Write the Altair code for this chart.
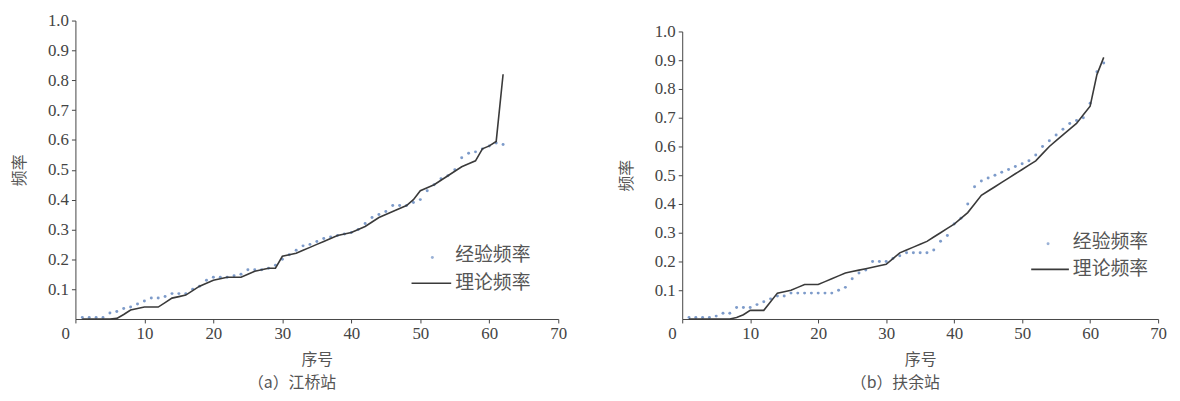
import altair as alt
import pandas as pd

idx = list(range(1, 63))

# (a) 江桥站
a_emp = [0.005, 0.005, 0.005, 0.005, 0.02, 0.025, 0.035, 0.04, 0.05, 0.06,
         0.07, 0.07, 0.075, 0.085, 0.085, 0.085, 0.10, 0.11, 0.13, 0.14,
         0.14, 0.14, 0.145, 0.15, 0.165, 0.165, 0.165, 0.17, 0.18, 0.20,
         0.215, 0.23, 0.245, 0.25, 0.26, 0.27, 0.275, 0.28, 0.285, 0.29,
         0.30, 0.32, 0.34, 0.35, 0.36, 0.38, 0.38, 0.38, 0.39, 0.40,
         0.43, 0.45, 0.47, 0.48, 0.50, 0.54, 0.555, 0.56, 0.57, 0.58,
         0.59, 0.585]
a_theo = [0.0, 0.0, 0.0, 0.0, 0.0, 0.002, 0.015, 0.03, 0.035, 0.04,
          0.04, 0.04, 0.055, 0.07, 0.075, 0.08, 0.095, 0.11, 0.12, 0.13,
          0.135, 0.14, 0.14, 0.14, 0.15, 0.16, 0.165, 0.17, 0.17, 0.21,
          0.215, 0.22, 0.23, 0.24, 0.25, 0.26, 0.27, 0.28, 0.285, 0.29,
          0.30, 0.31, 0.325, 0.34, 0.35, 0.36, 0.37, 0.38, 0.40, 0.43,
          0.44, 0.45, 0.465, 0.48, 0.495, 0.51, 0.52, 0.53, 0.57, 0.58,
          0.595, 0.82]

# (b) 扶余站
b_emp = [0.005, 0.005, 0.005, 0.005, 0.01, 0.02, 0.02, 0.04, 0.04, 0.04,
         0.05, 0.06, 0.07, 0.08, 0.08, 0.09, 0.09, 0.09, 0.09, 0.09,
         0.09, 0.09, 0.10, 0.11, 0.14, 0.16, 0.17, 0.20, 0.20, 0.20,
         0.21, 0.22, 0.23, 0.23, 0.23, 0.23, 0.24, 0.27, 0.29, 0.33,
         0.35, 0.40, 0.46, 0.48, 0.49, 0.50, 0.51, 0.52, 0.53, 0.54,
         0.55, 0.57, 0.60, 0.62, 0.64, 0.66, 0.68, 0.69, 0.70, 0.75,
         0.86, 0.89]
b_theo = [0.0, 0.0, 0.0, 0.0, 0.0, 0.0, 0.0, 0.005, 0.015, 0.03,
          0.03, 0.03, 0.06, 0.09, 0.095, 0.10, 0.11, 0.12, 0.12, 0.12,
          0.13, 0.14, 0.15, 0.16, 0.165, 0.17, 0.175, 0.18, 0.185, 0.19,
          0.21, 0.23, 0.24, 0.25, 0.26, 0.27, 0.285, 0.30, 0.315, 0.33,
          0.35, 0.37, 0.40, 0.43, 0.445, 0.46, 0.475, 0.49, 0.505, 0.52,
          0.535, 0.55, 0.575, 0.60, 0.62, 0.64, 0.66, 0.68, 0.71, 0.74,
          0.85, 0.91]

x_ticks = [0, 10, 20, 30, 40, 50, 60, 70]
y_ticks = [0.1, 0.2, 0.3, 0.4, 0.5, 0.6, 0.7, 0.8, 0.9, 1.0]
legend_labels = ["经验频率", "理论频率"]

SERIF = "Times New Roman, Liberation Serif, serif"
CJK = "Noto Sans CJK SC"
DOT = "#6f90c4"
LINE = "#3a3a3a"


def panel(emp, theo, caption, w, h, yrange, leg):
    df = pd.DataFrame({"i": idx, "emp": emp, "theo": theo})
    xaxis = alt.Axis(
        values=x_ticks, title="序号", titleFont=CJK, titleFontSize=16,
        titleFontWeight="normal", titleColor="#555", titlePadding=10,
        labelFont=SERIF, labelFontSize=17, labelColor="#444",
        labelAlign={"condition": {"test": "datum.value === 0", "value": "right"}, "value": "center"},
        labelOffset={"condition": {"test": "datum.value === 0", "value": -6}, "value": 0},
        labelPadding=3, domainColor="#444", tickColor="#444", tickSize=4,
        grid=False, labelFlush=False, labelOverlap=False,
    )
    yaxis = alt.Axis(
        values=y_ticks, format=".1f", title="频率", titleFont=CJK, titleFontSize=16,
        titleFontWeight="normal", titleColor="#555", titlePadding=20,
        labelFont=SERIF, labelFontSize=17, labelColor="#444", labelPadding=3,
        domainColor="#444", tickColor="#444", tickSize=4, grid=False,
        labelOverlap=False, labelFlush=False, labelBound=False,
    )
    xs = alt.Scale(domain=[0, 70], nice=False)
    ys = alt.Scale(domain=[0, 1], nice=False, range=yrange)
    base = alt.Chart(df)
    pts = base.mark_point(filled=True, size=9, color=DOT, opacity=0.9).encode(
        x=alt.X("i:Q", scale=xs, axis=xaxis),
        y=alt.Y("emp:Q", scale=ys, axis=yaxis),
    )
    line = base.mark_line(color=LINE, strokeWidth=1.6).encode(
        x=alt.X("i:Q", scale=xs, axis=xaxis),
        y=alt.Y("theo:Q", scale=ys, axis=yaxis),
    )
    one = alt.Data(values=[{"k": 1}])
    dx, dy, lx1, lx2, ly, tx = leg
    ldot = alt.Chart(one).mark_point(filled=True, size=9, color=DOT).encode(
        x=alt.value(dx), y=alt.value(dy))
    lt1 = alt.Chart(one).mark_text(align="left", baseline="middle", font=CJK,
                                   fontSize=19, color="#555").encode(
        x=alt.value(tx), y=alt.value(dy - 2), text=alt.value(legend_labels[0]))
    lrule = alt.Chart(one).mark_rule(color=LINE, strokeWidth=1.6).encode(
        x=alt.value(lx1), x2=alt.value(lx2), y=alt.value(ly))
    lt2 = alt.Chart(one).mark_text(align="left", baseline="middle", font=CJK,
                                   fontSize=19, color="#555").encode(
        x=alt.value(tx), y=alt.value(ly), text=alt.value(legend_labels[1]))
    return alt.layer(pts, line, ldot, lt1, lrule, lt2).resolve_axis(
        x="shared", y="shared"
    ).properties(
        width=w, height=h,
        title=alt.TitleParams(caption, orient="bottom", font=CJK, fontSize=16,
                              fontWeight="normal", color="#555", offset=8, dx=-25),
    )


left = panel(a_emp, a_theo, "（a）江桥站", 487, 301, [301, 0],
             (360, 239, 339, 379, 265, 383))
right = panel(b_emp, b_theo, "（b）扶余站", 480, 301, [301, 11],
              (369, 225, 352, 390, 251, 394))

chart = alt.hconcat(left, right, spacing=51).properties(
    padding={"left": 3, "top": 2, "right": 5, "bottom": 2}
).configure_view(stroke=None).configure_axis(
    labelFont=SERIF, labelOverlap=False
)

chart.save("out.html", embed_options={"renderer": "svg", "actions": False})
